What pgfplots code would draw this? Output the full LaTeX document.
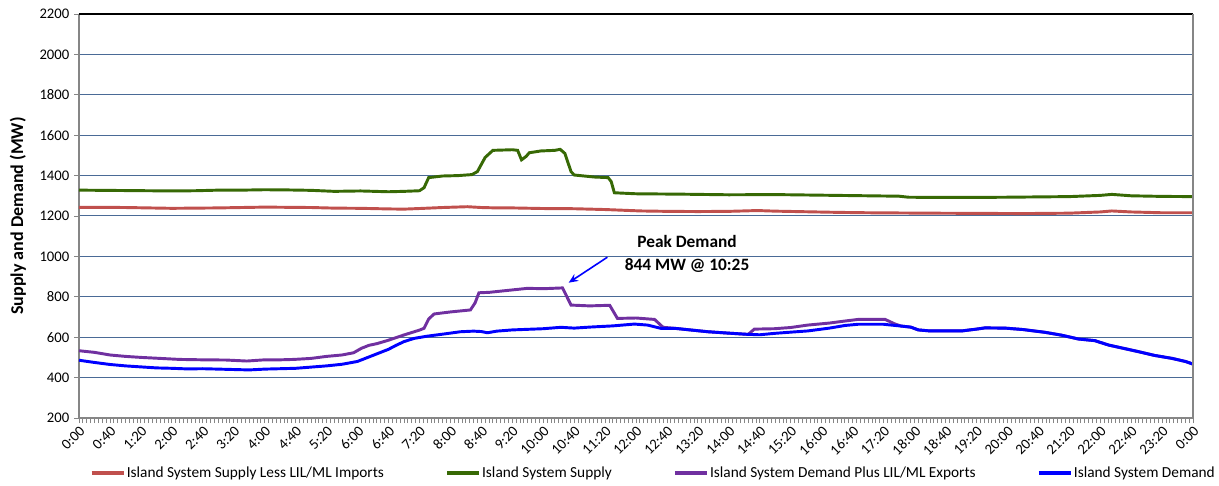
\documentclass[border=0pt]{standalone}
\usepackage{fontspec}
\setmainfont{Carlito}
\usepackage{pgfplots}
\pgfplotsset{compat=1.18}
\usetikzlibrary{arrows.meta}
\definecolor{cred}{RGB}{192,80,77}
\definecolor{cgreen}{RGB}{55,105,5}
\definecolor{cpurple}{RGB}{112,48,160}
\definecolor{cblue}{RGB}{0,0,255}
\definecolor{gridc}{RGB}{74,106,150}
\definecolor{axgray}{RGB}{134,134,134}
\begin{document}
\begin{tikzpicture}
\begin{axis}[
  at={(0,0)}, anchor=south west,
  scale only axis, width=835.5pt, height=303pt,
  xmin=0, xmax=1440, ymin=200, ymax=2200,
  axis x line*=bottom, axis y line*=left,
  axis line style={axgray, line width=1.4pt, -},
  xtick={0,40,...,1440},
  minor xtick={0,5,...,1440},
  xticklabels={0:00,0:40,1:20,2:00,2:40,3:20,4:00,4:40,5:20,6:00,6:40,7:20,8:00,8:40,9:20,10:00,10:40,11:20,12:00,12:40,13:20,14:00,14:40,15:20,16:00,16:40,17:20,18:00,18:40,19:20,20:00,20:40,21:20,22:00,22:40,23:20,0:00},
  xticklabel style={rotate=45, anchor=north east, inner sep=1pt, font=\fontsize{11}{13}\selectfont},
  yticklabel style={font=\fontsize{11}{13}\selectfont},
  ytick={200,400,...,2200},
  /pgf/number format/1000 sep={},
  /pgf/number format/assume math mode=true,
  tick align=outside,
  major tick length=3.75pt, minor tick length=3.75pt,
  tick style={axgray, line width=0.6pt},
  ymajorgrids, grid style={gridc, line width=0.75pt},
  ylabel={Supply and Demand (MW)},
  every axis y label/.style={at={(axis description cs:-0.0548,0.5)}, rotate=90, anchor=center, font=\fontsize{13.5}{16}\selectfont\bfseries},
  legend columns=4,
  legend style={at={(rel axis cs:0.5153,-0.136)}, anchor=center, draw=none, fill=none,
    font=\fontsize{11.5}{14}\selectfont,
    /tikz/every even column/.append style={column sep=45pt},
    nodes={inner sep=1pt}},
  legend image code/.code={\draw[#1, line width=2.6pt] (0pt,0pt) -- (24pt,0pt);},
  clip=false,
]
\addplot[cred, line width=2.2pt] coordinates {
(0,1243)(30,1243)(60,1242)(90,1240)(120,1238)(150,1239)(180,1240)(210,1242)(240,1244)(270,1243)(300,1242)(330,1239)(364,1238)(400,1235)(420,1234)(440,1237)(470,1242)(502,1246)(520,1242)(540,1240)(560,1240)(600,1237)(640,1236)(680,1232)(726,1225)(760,1223)(800,1222)(840,1223)(877,1227)(900,1224)(940,1221)(980,1218)(1020,1216)(1060,1215)(1100,1214)(1160,1213)(1220,1212)(1280,1214)(1320,1220)(1335,1225)(1360,1220)(1400,1216)(1440,1216)
};
\addlegendentry{Island System Supply Less LIL/ML Imports}
\addplot[cgreen, line width=2.2pt] coordinates {
(0,1328)(30,1327)(60,1326)(90,1325)(120,1324)(150,1325)(180,1328)(210,1328)(240,1330)(270,1329)(300,1327)(330,1322)(364,1324)(400,1320)(420,1322)(440,1325)(446,1340)(452,1390)(470,1398)(490,1400)(508,1405)(515,1420)(525,1490)(535,1525)(560,1528)(567,1525)(572,1478)(578,1495)(582,1513)(597,1522)(615,1525)(622,1530)(628,1510)(636,1420)(640,1403)(666,1393)(684,1390)(688,1370)(692,1315)(720,1310)(780,1308)(840,1305)(900,1306)(960,1303)(1020,1300)(1060,1298)(1072,1293)(1100,1292)(1160,1292)(1200,1293)(1280,1296)(1320,1302)(1335,1307)(1360,1300)(1400,1297)(1440,1296)
};
\addlegendentry{Island System Supply}
\addplot[cpurple, line width=2.2pt] coordinates {
(0,533)(20,525)(40,512)(60,505)(80,500)(105,495)(130,490)(160,488)(190,487)(217,482)(240,488)(260,488)(278,490)(300,495)(320,505)(340,512)(355,523)(365,545)(375,560)(385,568)(400,585)(420,611)(440,635)(446,644)(452,690)(459,715)(480,725)(506,735)(512,770)(517,820)(530,822)(550,830)(580,842)(600,840)(625,844)(636,759)(660,755)(686,758)(696,693)(720,695)(744,688)(755,649)(770,644)(790,636)(813,627)(840,620)(865,614)(873,640)(899,642)(920,648)(942,660)(970,670)(990,680)(1007,688)(1042,688)(1055,665)(1063,655)(1075,650)(1085,636)(1100,631)(1141,631)(1160,640)(1171,646)(1197,645)(1220,638)(1249,624)(1270,610)(1292,591)(1313,583)(1331,561)(1350,545)(1370,528)(1390,510)(1413,495)(1430,480)(1440,467)
};
\addlegendentry{Island System Demand Plus LIL/ML Exports}
\addplot[cblue, line width=2.2pt] coordinates {
(0,486)(20,475)(40,465)(60,458)(80,453)(100,448)(120,446)(140,443)(160,444)(180,442)(200,440)(220,438)(240,442)(260,444)(280,446)(300,452)(320,458)(340,466)(360,480)(370,495)(380,510)(390,525)(400,540)(410,560)(420,578)(433,594)(450,605)(470,615)(493,627)(510,630)(520,628)(528,622)(540,630)(560,636)(580,639)(600,642)(623,649)(640,645)(660,650)(690,656)(718,665)(735,660)(752,644)(770,644)(790,636)(813,627)(840,620)(865,614)(880,612)(899,619)(920,625)(942,631)(970,645)(990,658)(1007,664)(1040,664)(1063,655)(1075,650)(1085,636)(1100,631)(1141,631)(1160,640)(1171,646)(1197,645)(1220,638)(1249,624)(1270,610)(1292,591)(1313,583)(1331,561)(1350,545)(1370,528)(1390,510)(1413,495)(1430,480)(1440,467)
};
\addlegendentry{Island System Demand}
\draw[black, line width=0.8pt] (rel axis cs:0,1) -- (rel axis cs:1,1);
\draw[axgray, line width=0.8pt] (rel axis cs:1,0) -- (rel axis cs:1,1);
\draw[cblue, line width=1.2pt, -{Stealth[length=7pt,width=6pt]}] (axis cs:683,996) -- (axis cs:633,870);
\node[font=\fontsize{13}{17}\selectfont\bfseries, align=center, inner sep=0pt] at (axis cs:786,1012) {Peak Demand\\844 MW @ 10:25};
\end{axis}
\pgfresetboundingbox
\path[use as bounding box] (-59.25pt,-50.25pt) rectangle (855pt,313.5pt);
\end{tikzpicture}
\end{document}
